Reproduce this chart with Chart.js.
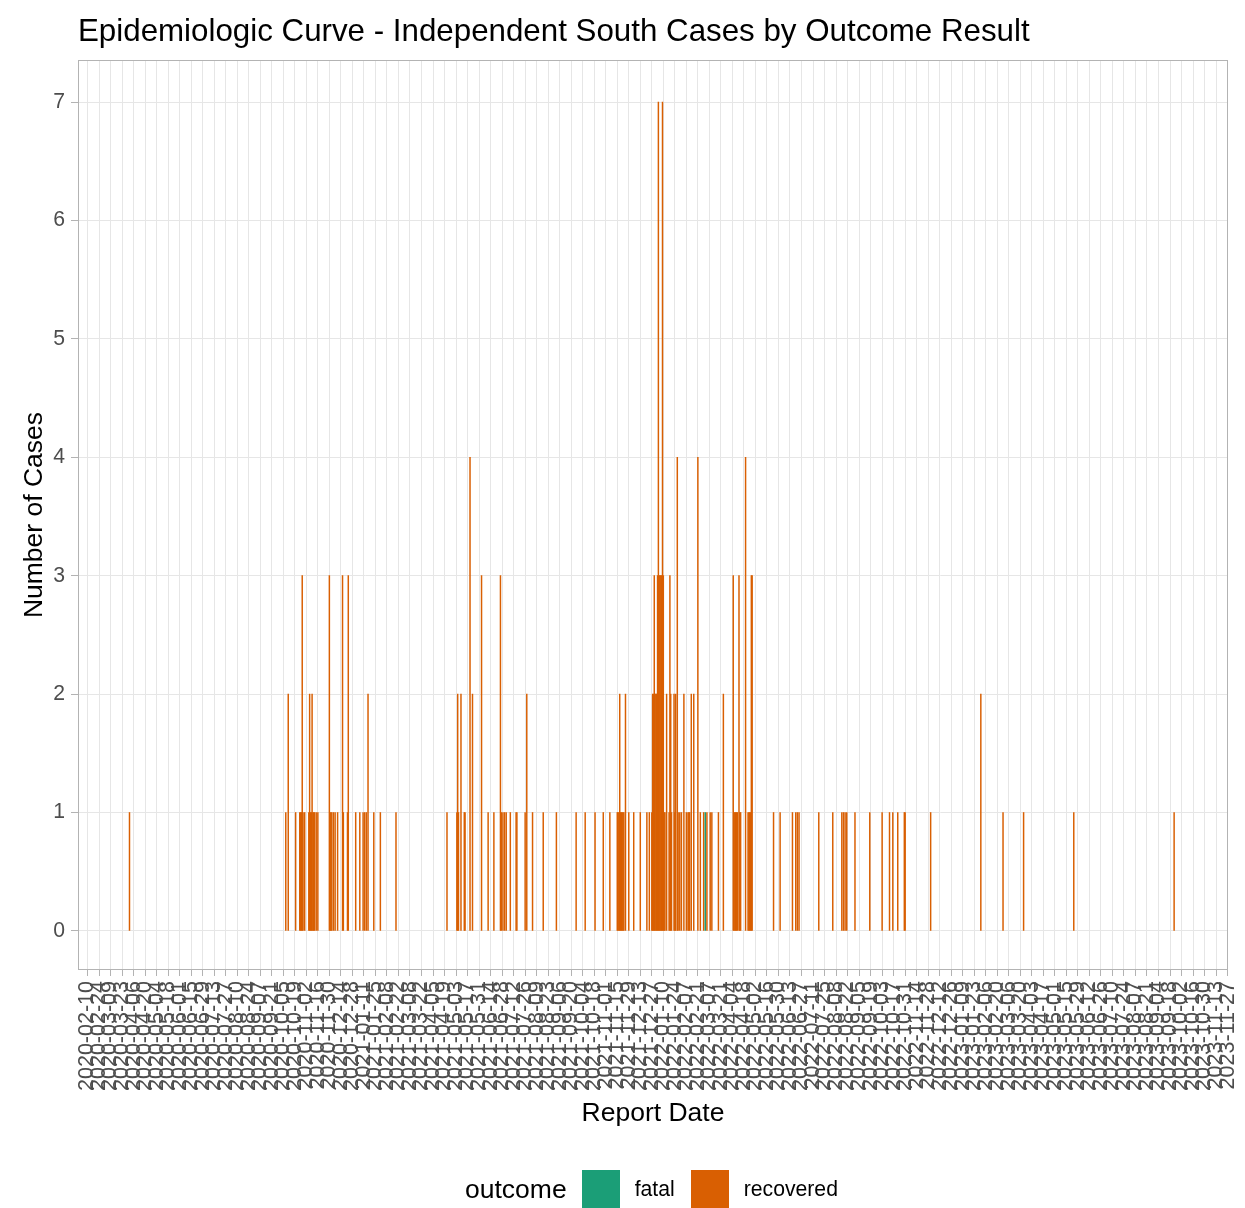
<!DOCTYPE html>
<html>
<head>
<meta charset="utf-8">
<script src="https://cdn.jsdelivr.net/npm/chart.js@4.4.1/dist/chart.umd.min.js"></script>
<style>
  body { margin: 0; background: #fff; }
  #wrap { position: relative; width: 1245px; height: 1208px; font-family: "Liberation Sans", Arial, sans-serif; }
  #title { position: absolute; left: 78px; top: 15px; font-size: 31.3px; line-height: 1; color: #000; white-space: nowrap; }
  #legend { position: absolute; left: 465px; top: 1170px; height: 38px; display: flex; align-items: center; }
  #legend .lt { font-size: 26.5px; margin-right: 15px; }
  #legend .sw { width: 38px; height: 38px; margin-right: 15px; }
  #legend .lb { font-size: 21.2px; margin-right: 16px; }
</style>
</head>
<body>
<div id="wrap">
  <canvas id="c" width="1245" height="1208"></canvas>
  <div id="title">Epidemiologic Curve - Independent South Cases by Outcome Result</div>
  <div id="legend">
    <span class="lt">outcome</span>
    <span class="sw" style="background:#1B9E77"></span><span class="lb">fatal</span>
    <span class="sw" style="background:#D95F02"></span><span class="lb">recovered</span>
  </div>
</div>
<script>
// daily counts read off the epicurve (days without cases are left out)
const recoveredDates = [
  "2020-04-01", "2020-10-08", "2020-10-11", "2020-10-20", "2020-10-25", "2020-10-26", "2020-10-27", "2020-10-28",
  "2020-10-29", "2020-10-31", "2020-11-05", "2020-11-06", "2020-11-07", "2020-11-08", "2020-11-09", "2020-11-10",
  "2020-11-11", "2020-11-12", "2020-11-14", "2020-11-16", "2020-11-30", "2020-12-01", "2020-12-02", "2020-12-03",
  "2020-12-05", "2020-12-07", "2020-12-10", "2020-12-16", "2020-12-17", "2020-12-22", "2020-12-23",
  "2021-01-01", "2021-01-06", "2021-01-10", "2021-01-12", "2021-01-14", "2021-01-16", "2021-01-23", "2021-01-31",
  "2021-02-19", "2021-04-22", "2021-05-04", "2021-05-05", "2021-05-06", "2021-05-09", "2021-05-13", "2021-05-14",
  "2021-05-20", "2021-05-23", "2021-06-03", "2021-06-11", "2021-06-18", "2021-06-26", "2021-06-27", "2021-06-29",
  "2021-07-01", "2021-07-03", "2021-07-08", "2021-07-15", "2021-07-16", "2021-07-26", "2021-07-28", "2021-08-04",
  "2021-08-17", "2021-09-02", "2021-09-26", "2021-10-07", "2021-10-19", "2021-10-29", "2021-11-06", "2021-11-15",
  "2021-11-16", "2021-11-17", "2021-11-18", "2021-11-19", "2021-11-20", "2021-11-21", "2021-11-22", "2021-11-23",
  "2021-11-25", "2021-11-29", "2021-12-05", "2021-12-13", "2021-12-21", "2021-12-24", "2021-12-27", "2021-12-28",
  "2021-12-29", "2021-12-30", "2021-12-31",
  "2022-01-01", "2022-01-02", "2022-01-03", "2022-01-04", "2022-01-05", "2022-01-06", "2022-01-07", "2022-01-08",
  "2022-01-09", "2022-01-10", "2022-01-11", "2022-01-12", "2022-01-14", "2022-01-17", "2022-01-18", "2022-01-19",
  "2022-01-20", "2022-01-23", "2022-01-24", "2022-01-25", "2022-01-27", "2022-01-28", "2022-01-30", "2022-02-01",
  "2022-02-04", "2022-02-07", "2022-02-09", "2022-02-10", "2022-02-11", "2022-02-13", "2022-02-16", "2022-02-21",
  "2022-02-24", "2022-02-28", "2022-03-04", "2022-03-08", "2022-03-10", "2022-03-18", "2022-03-24", "2022-04-05",
  "2022-04-06", "2022-04-07", "2022-04-08", "2022-04-09", "2022-04-10", "2022-04-12", "2022-04-13", "2022-04-14",
  "2022-04-20", "2022-04-23", "2022-04-24", "2022-04-25", "2022-04-26", "2022-04-27", "2022-04-28", "2022-05-24",
  "2022-06-01", "2022-06-16", "2022-06-20", "2022-06-22", "2022-06-24", "2022-07-18", "2022-08-04", "2022-08-15",
  "2022-08-17", "2022-08-19", "2022-08-21", "2022-08-31", "2022-09-18", "2022-10-03", "2022-10-12", "2022-10-16",
  "2022-10-22", "2022-10-30", "2022-10-31", "2022-12-01",
  "2023-01-31", "2023-02-27", "2023-03-24", "2023-05-24", "2023-09-23"
];
const recoveredCases = [
  1, 1, 2, 1, 1, 1, 1, 3,
  1, 1, 1, 2, 1, 1, 2, 1,
  1, 1, 1, 1, 3, 1, 1, 1,
  1, 1, 1, 3, 1, 1, 3,
  1, 1, 1, 1, 1, 2, 1, 1,
  1, 1, 1, 2, 1, 2, 1, 1,
  4, 2, 3, 1, 1, 3, 1, 1,
  1, 1, 1, 1, 1, 1, 2, 1,
  1, 1, 1, 1, 1, 1, 1, 1,
  1, 1, 2, 1, 1, 1, 1, 1,
  2, 1, 1, 1, 1, 1, 1, 2,
  2, 3, 2,
  2, 2, 3, 7, 3, 3, 3, 3,
  7, 3, 1, 1, 2, 1, 3, 2,
  1, 2, 1, 2, 4, 1, 1, 1,
  2, 1, 1, 1, 1, 2, 2, 4,
  1, 1, 1, 1, 1, 1, 2, 3,
  1, 1, 1, 1, 1, 3, 1, 1,
  4, 1, 1, 1, 1, 3, 3, 1,
  1, 1, 1, 1, 1, 1, 1, 1,
  1, 1, 1, 1, 1, 1, 1, 1,
  1, 1, 1, 1,
  2, 1, 1, 1, 1
];
const fatalDates = ["2022-03-02"];
const fatalCases = [1];

// x-axis breaks, every two weeks
const tickLabels = [
  "2020-02-10", "2020-02-24", "2020-03-09", "2020-03-23", "2020-04-06", "2020-04-20", "2020-05-04", "2020-05-18",
  "2020-06-01", "2020-06-15", "2020-06-29", "2020-07-13", "2020-07-27", "2020-08-10", "2020-08-24", "2020-09-07",
  "2020-09-21", "2020-10-05", "2020-10-19", "2020-11-02", "2020-11-16", "2020-11-30", "2020-12-14", "2020-12-28",
  "2021-01-11", "2021-01-25", "2021-02-08", "2021-02-22", "2021-03-08", "2021-03-22", "2021-04-05", "2021-04-19",
  "2021-05-03", "2021-05-17", "2021-05-31", "2021-06-14", "2021-06-28", "2021-07-12", "2021-07-26", "2021-08-09",
  "2021-08-23", "2021-09-06", "2021-09-20", "2021-10-04", "2021-10-18", "2021-11-01", "2021-11-15", "2021-11-29",
  "2021-12-13", "2021-12-27", "2022-01-10", "2022-01-24", "2022-02-07", "2022-02-21", "2022-03-07", "2022-03-21",
  "2022-04-04", "2022-04-18", "2022-05-02", "2022-05-16", "2022-05-30", "2022-06-13", "2022-06-27", "2022-07-11",
  "2022-07-25", "2022-08-08", "2022-08-22", "2022-09-05", "2022-09-19", "2022-10-03", "2022-10-17", "2022-10-31",
  "2022-11-14", "2022-11-28", "2022-12-12", "2022-12-26", "2023-01-09", "2023-01-23", "2023-02-06", "2023-02-20",
  "2023-03-06", "2023-03-20", "2023-04-03", "2023-04-17", "2023-05-01", "2023-05-15", "2023-05-29", "2023-06-12",
  "2023-06-26", "2023-07-10", "2023-07-24", "2023-08-07", "2023-08-21", "2023-09-04", "2023-09-18", "2023-10-02",
  "2023-10-16", "2023-10-30", "2023-11-13", "2023-11-27"
];
const yTicks = [0, 1, 2, 3, 4, 5, 6, 7];

const FONT = '"Liberation Sans", Arial, sans-serif';
const DAY0 = Date.UTC(2020, 1, 10);

// date string -> days since 2020-02-10
function toDay(s) {
  const p = s.split("-").map(Number);
  return Math.round((Date.UTC(p[0], p[1] - 1, p[2]) - DAY0) / 86400000);
}

const tickDays = tickLabels.map(toDay);
const recoveredPts = recoveredDates.map((d, i) => ({ x: toDay(d), y: recoveredCases[i] }));
const fatalPts = fatalDates.map((d, i) => ({ x: toDay(d), y: fatalCases[i] }));

// grey frame round the panel, like ggplot's panel.border
const panelBorder = {
  id: "panelBorder",
  afterDatasetsDraw(chart) {
    const a = chart.chartArea;
    const c = chart.ctx;
    c.save();
    c.strokeStyle = "#B3B3B3";
    c.lineWidth = 1;
    c.strokeRect(a.left + 0.5, a.top + 0.5, a.right - a.left - 1, a.bottom - a.top - 1);
    c.restore();
  }
};

new Chart(document.getElementById("c"), {
  type: "bar",
  data: {
    datasets: [
      { label: "fatal", data: fatalPts, backgroundColor: "#1B9E77", borderWidth: 0, barPercentage: 1, categoryPercentage: 1 },
      { label: "recovered", data: recoveredPts, backgroundColor: "#D95F02", borderWidth: 0, barPercentage: 1, categoryPercentage: 1 }
    ]
  },
  options: {
    responsive: false,
    animation: false,
    layout: { padding: { top: 60, right: 17, bottom: 78, left: 0 } },
    plugins: {
      legend: { display: false },
      title: { display: false },
      tooltip: { enabled: false }
    },
    scales: {
      x: {
        type: "linear",
        stacked: true,
        offset: false,
        min: -11.6,
        max: 1386.5,
        grid: { color: "#E6E6E6", offset: false, tickLength: 6, tickColor: "#B3B3B3" },
        border: { display: false },
        afterBuildTicks: (s) => { s.ticks = tickDays.map((v) => ({ value: v })); },
        afterFit: (s) => { s.height = 160; s.paddingLeft = 0; s.paddingRight = 0; },
        ticks: {
          autoSkip: false,
          minRotation: 90,
          maxRotation: 90,
          padding: 5,
          color: "#4D4D4D",
          font: { family: FONT, size: 21.5 },
          callback: (v, i) => tickLabels[i]
        },
        title: { display: true, text: "Report Date", color: "#000", font: { family: FONT, size: 26.5 }, padding: { top: 0, bottom: 0 } }
      },
      y: {
        stacked: true,
        min: -0.33,
        max: 7.355,
        grid: { color: "#E6E6E6", tickLength: 7, tickColor: "#B3B3B3" },
        border: { display: false },
        afterBuildTicks: (s) => { s.ticks = yTicks.map((v) => ({ value: v })); },
        afterFit: (s) => { s.width = 78; s.paddingTop = 0; s.paddingBottom = 0; },
        ticks: { padding: 6, color: "#4D4D4D", font: { family: FONT, size: 21.2 } },
        title: { display: true, text: "Number of Cases", color: "#000", font: { family: FONT, size: 26.5 }, padding: { top: 19, bottom: 0 } }
      }
    }
  },
  plugins: [panelBorder]
});
</script>
</body>
</html>
